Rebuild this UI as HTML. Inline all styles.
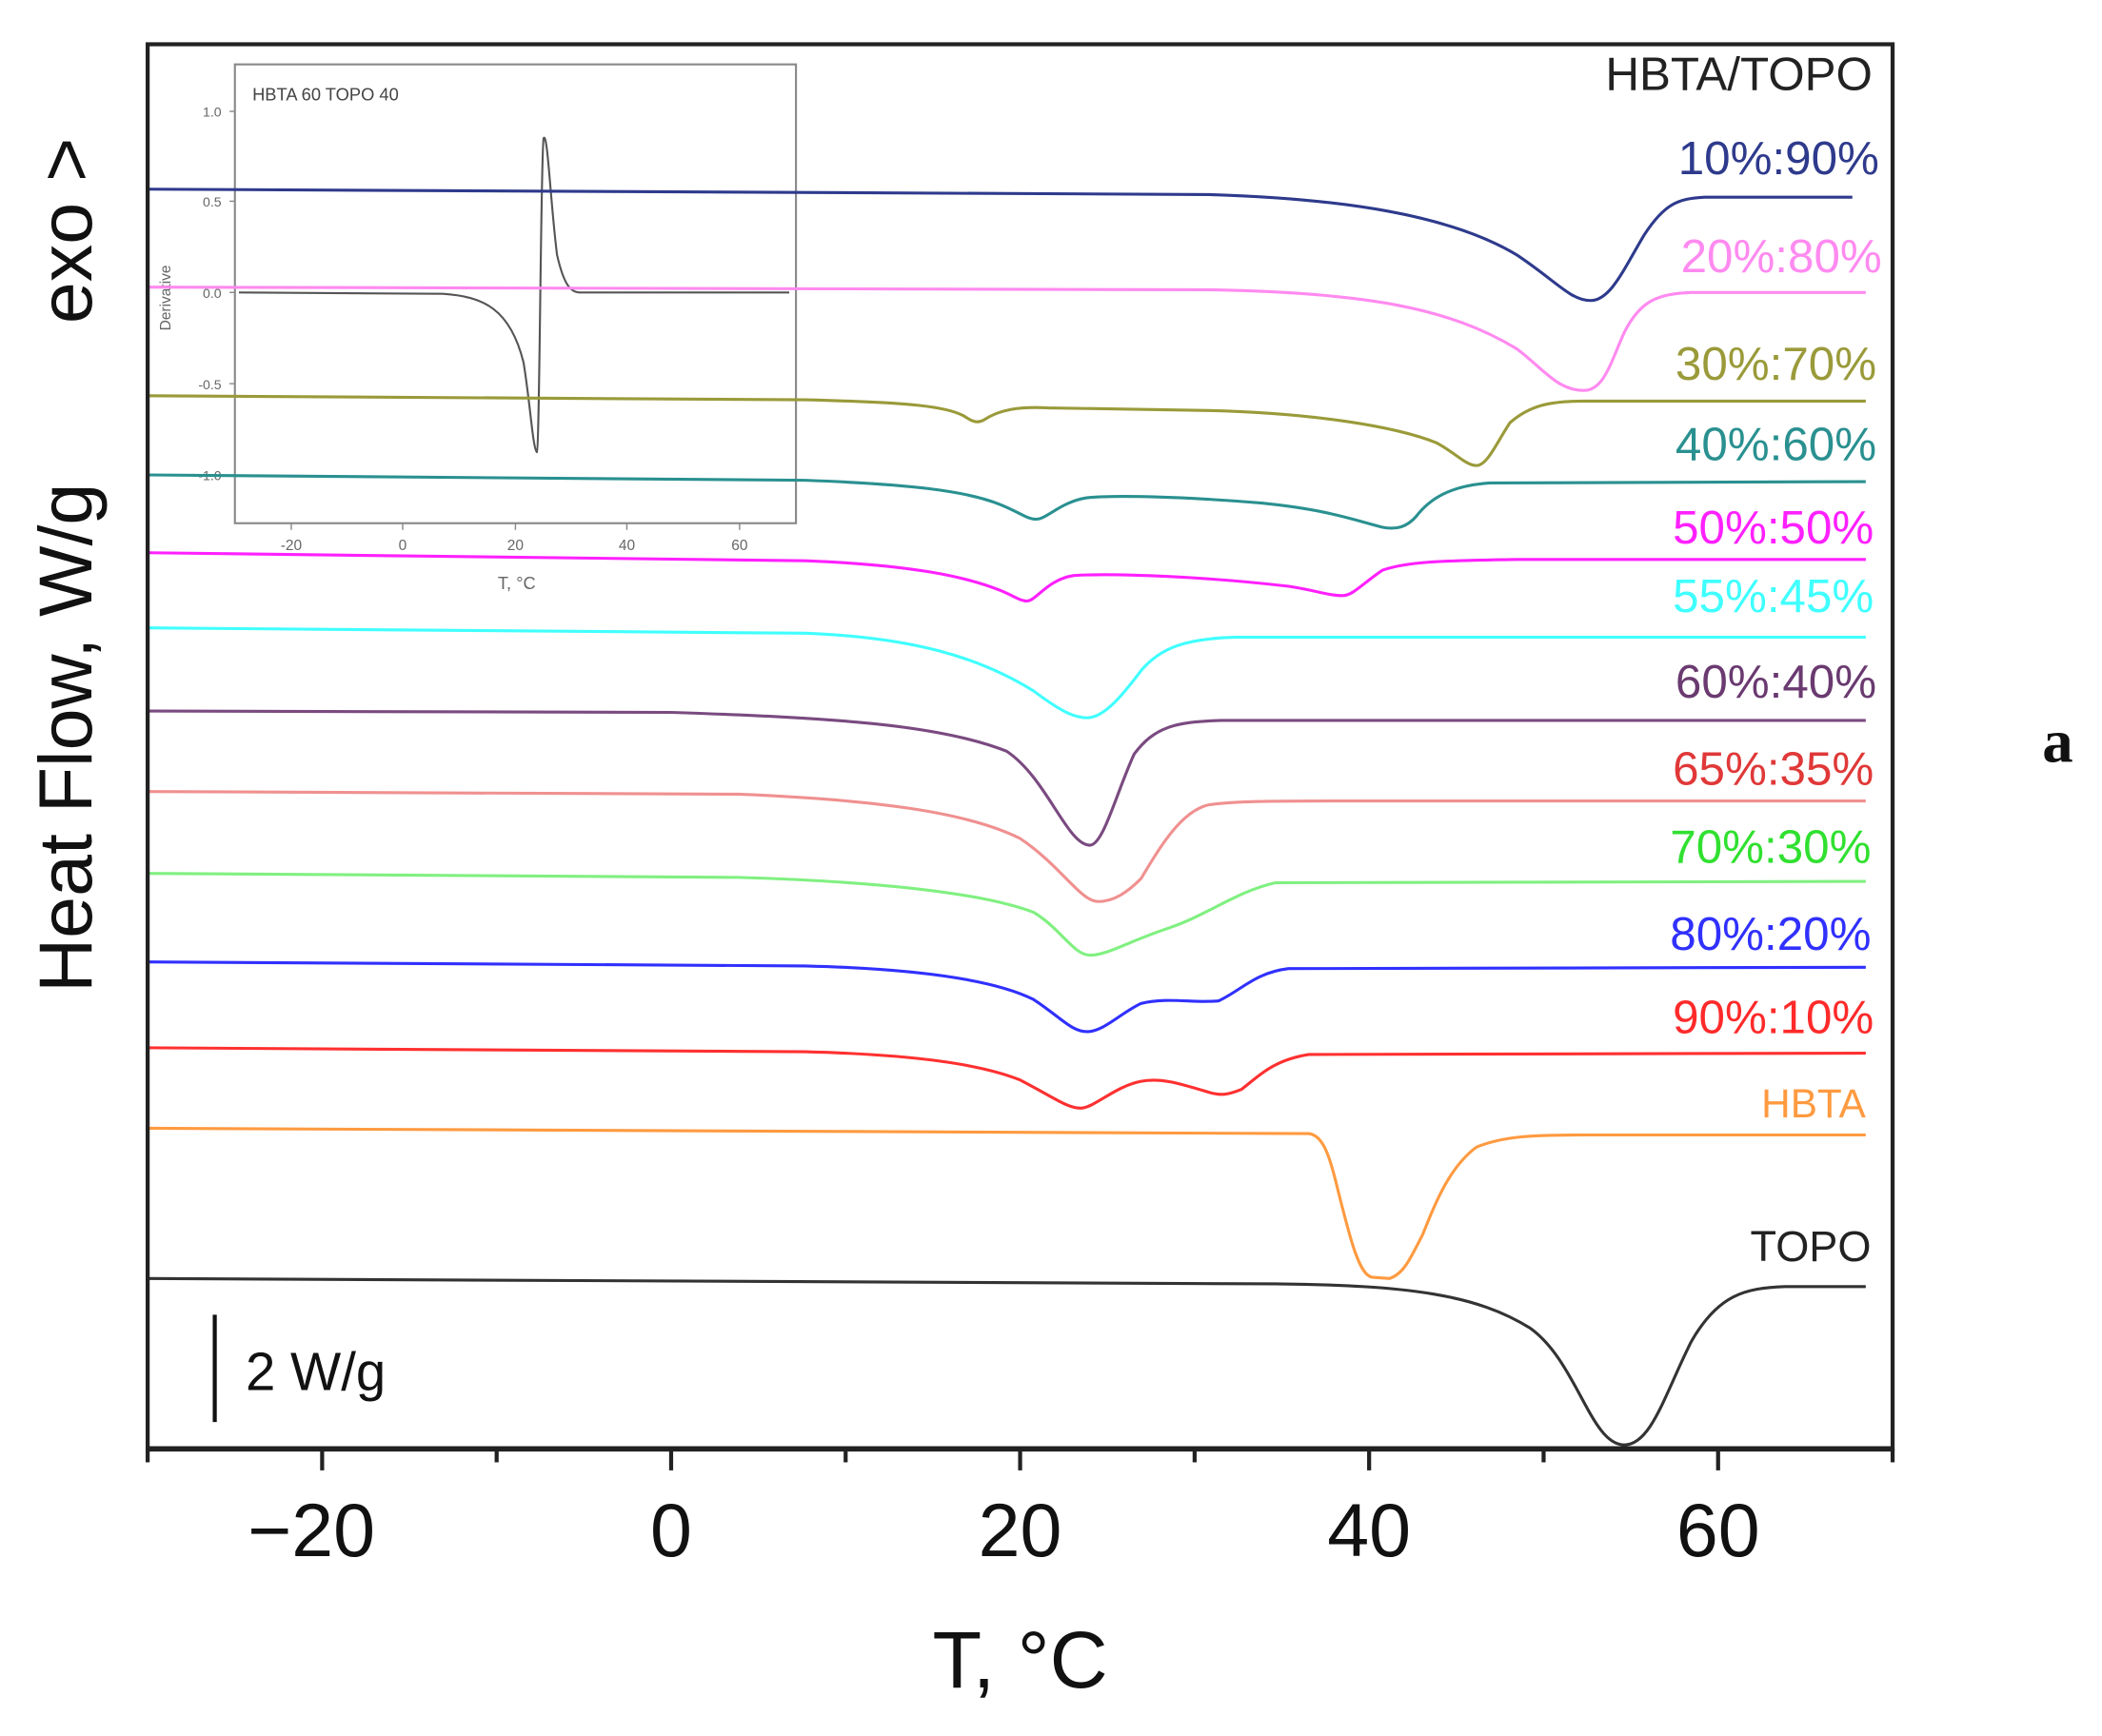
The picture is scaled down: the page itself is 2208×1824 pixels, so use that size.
<!DOCTYPE html>
<html><head><meta charset="utf-8">
<style>
html,body{margin:0;padding:0;background:#fff;}
svg{display:block;}
text{font-family:"Liberation Sans",Arial,sans-serif;}
</style></head>
<body>
<svg width="2208" height="1824" viewBox="0 0 1566 1294" preserveAspectRatio="none" xmlns="http://www.w3.org/2000/svg">
<g fill="none">
  <rect x="175" y="48" width="418" height="342" stroke="#888" stroke-width="1.5"/>
  <text x="188" y="75" font-size="13" fill="#444" stroke="none">HBTA 60 TOPO 40</text>
  <g font-size="10" fill="#666" stroke="none" text-anchor="end">
    <text x="165" y="87">1.0</text><text x="165" y="154">0.5</text><text x="165" y="222">0.0</text>
    <text x="165" y="290">-0.5</text><text x="165" y="358">-1.0</text>
  </g>
  <g stroke="#888" stroke-width="1">
    <line x1="175" y1="83" x2="171" y2="83"/><line x1="175" y1="150" x2="171" y2="150"/>
    <line x1="175" y1="218" x2="171" y2="218"/><line x1="175" y1="286" x2="171" y2="286"/>
    <line x1="175" y1="354" x2="171" y2="354"/>
    <line x1="217" y1="390" x2="217" y2="395"/><line x1="300" y1="390" x2="300" y2="395"/>
    <line x1="384" y1="390" x2="384" y2="395"/><line x1="467" y1="390" x2="467" y2="395"/>
    <line x1="551" y1="390" x2="551" y2="395"/>
  </g>
  <g font-size="11" fill="#666" stroke="none" text-anchor="middle">
    <text x="217" y="410">-20</text><text x="300" y="410">0</text><text x="384" y="410">20</text>
    <text x="467" y="410">40</text><text x="551" y="410">60</text>
    <text x="385" y="439" font-size="13">T, °C</text>
  </g>
  <text transform="translate(127,222) rotate(-90)" font-size="11" fill="#666" stroke="none" text-anchor="middle">Derivative</text>
  <path d="M178,218 L330,219 C360,221 380,230 390,270 C395,300 397,335 400,337 C402,335 403,110 405,103 C408,98 410,150 415,190 C420,212 425,218 432,218 L588,218" stroke="#555" stroke-width="1.5"/>
</g>
<g fill="none" stroke-width="2.2">
<path stroke="#2e3a8c" d="M110,141 L900,145 C1000,148 1080,160 1130,190 C1160,210 1170,224 1185,224 C1200,224 1210,200 1225,175 C1240,152 1250,148 1270,147 L1380,147"/>
<path stroke="#ff8af0" d="M110,214 L900,216 C1020,218 1080,230 1130,260 C1150,275 1160,291 1180,291 C1195,291 1200,270 1210,248 C1222,224 1235,219 1260,218 L1390,218"/>
<path stroke="#9a9a3a" d="M110,295 L600,298 C680,300 705,303 718,310 C724,314 728,316 733,313 C745,305 760,303 780,304 L900,306 C980,308 1040,318 1070,330 C1085,338 1092,347 1100,347 C1108,347 1115,330 1125,315 C1140,302 1155,299 1180,299 L1390,299"/>
<path stroke="#2a9090" d="M110,354 L600,358 C680,361 720,366 745,376 C760,382 765,387 772,387 C780,387 790,374 810,371 C830,369 880,370 940,375 C990,380 1010,388 1030,393 C1040,395 1048,393 1055,385 C1065,372 1080,362 1110,360 L1390,359"/>
<path stroke="#ff20ff" d="M110,412 L600,418 C680,421 720,430 745,440 C755,444 760,448 765,448 C772,448 780,432 800,429 C830,427 900,430 960,437 C980,440 990,444 1000,444 C1008,444 1015,435 1030,425 C1050,418 1080,418 1130,417 L1390,417"/>
<path stroke="#40ffff" d="M110,468 L600,472 C680,475 730,490 770,515 C790,530 800,535 810,535 C822,535 835,520 850,500 C865,482 885,476 920,475 L1390,475"/>
<path stroke="#7a4a80" d="M110,530 L500,531 C620,535 700,540 750,560 C780,580 795,630 812,630 C822,630 832,590 845,562 C860,542 875,538 910,537 L1390,537"/>
<path stroke="#f09090" d="M110,590 L550,592 C650,596 720,605 760,625 C790,645 805,672 818,672 C830,672 840,665 850,655 C865,630 880,605 900,600 C920,597 950,597 1000,597 L1390,597"/>
<path stroke="#80f080" d="M110,651 L550,654 C650,657 730,665 770,680 C790,692 800,712 812,712 C825,712 840,702 870,692 C900,682 920,665 950,658 L1390,657"/>
<path stroke="#3030ff" d="M110,717 L600,720 C680,722 740,730 770,745 C790,758 798,769 810,769 C822,769 835,755 850,748 C870,743 890,748 908,746 C925,738 935,725 960,722 L1390,721"/>
<path stroke="#ff3030" d="M110,781 L600,784 C680,786 730,793 760,805 C785,818 795,826 805,826 C815,826 830,810 850,806 C865,803 880,808 900,814 C910,817 915,816 925,812 C940,800 950,790 975,786 L1390,785"/>
<path stroke="#ff9a40" d="M110,841 L975,845 C985,846 990,860 995,880 C1005,920 1012,950 1022,952 L1035,953 C1045,950 1050,940 1060,920 C1070,895 1080,870 1100,855 C1120,847 1140,846 1180,846 L1390,846"/>
<path stroke="#333333" d="M110,953 L950,957 C1050,958 1100,965 1140,990 C1175,1015 1185,1077 1210,1077 C1230,1077 1240,1040 1260,1000 C1280,965 1300,960 1330,959 L1390,959"/>
</g>
<rect x="110" y="33" width="1300" height="1047" fill="none" stroke="#222" stroke-width="3"/>
<line x1="110" y1="1080" x2="1410" y2="1080" stroke="#222" stroke-width="4"/>
<g stroke="#222" stroke-width="3">
  <line x1="240" y1="1080" x2="240" y2="1096"/><line x1="500" y1="1080" x2="500" y2="1096"/>
  <line x1="760" y1="1080" x2="760" y2="1096"/><line x1="1020" y1="1080" x2="1020" y2="1096"/>
  <line x1="1280" y1="1080" x2="1280" y2="1096"/>
  <line x1="370" y1="1080" x2="370" y2="1090"/><line x1="630" y1="1080" x2="630" y2="1090"/>
  <line x1="890" y1="1080" x2="890" y2="1090"/><line x1="1150" y1="1080" x2="1150" y2="1090"/>
  <line x1="110" y1="1080" x2="110" y2="1090"/><line x1="1410" y1="1080" x2="1410" y2="1090"/>
</g>
<g font-size="56" fill="#111" text-anchor="middle">
  <text x="232" y="1160">−20</text><text x="500" y="1160">0</text><text x="760" y="1160">20</text>
  <text x="1020" y="1160">40</text><text x="1280" y="1160">60</text>
</g>
<text x="760" y="1258" font-size="60" fill="#111" text-anchor="middle">T, °C</text>
<text transform="translate(68,550) rotate(-90)" font-size="56" fill="#111" text-anchor="middle">Heat Flow, W/g</text>
<text transform="translate(68,172) rotate(-90)" font-size="56" fill="#111" text-anchor="middle">exo &gt;</text>
<text x="1533" y="568" font-size="46" font-weight="bold" fill="#111" text-anchor="middle" style="font-family:'Liberation Serif',serif">a</text>
<line x1="160" y1="980" x2="160" y2="1060" stroke="#111" stroke-width="3"/>
<text x="183" y="1036" font-size="40" fill="#111">2 W/g</text>
<g font-size="35" text-anchor="end">
  <text x="1395" y="67" fill="#222">HBTA/TOPO</text>
  <text x="1400" y="130" fill="#2e3a8c">10%:90%</text>
  <text x="1402" y="203" fill="#ff8af0">20%:80%</text>
  <text x="1398" y="283" fill="#9a9a3a">30%:70%</text>
  <text x="1398" y="343" fill="#2a9090">40%:60%</text>
  <text x="1396" y="405" fill="#ff20ff">50%:50%</text>
  <text x="1396" y="456" fill="#40ffff">55%:45%</text>
  <text x="1398" y="520" fill="#6a3a70">60%:40%</text>
  <text x="1396" y="585" fill="#e03838">65%:35%</text>
  <text x="1394" y="643" fill="#30e030">70%:30%</text>
  <text x="1394" y="708" fill="#3030ff">80%:20%</text>
  <text x="1396" y="770" fill="#ff2a2a">90%:10%</text>
  <text x="1390" y="833" fill="#ff9a40" font-size="30">HBTA</text>
  <text x="1394" y="940" fill="#222" font-size="32">TOPO</text>
</g>
</svg>
</body></html>
